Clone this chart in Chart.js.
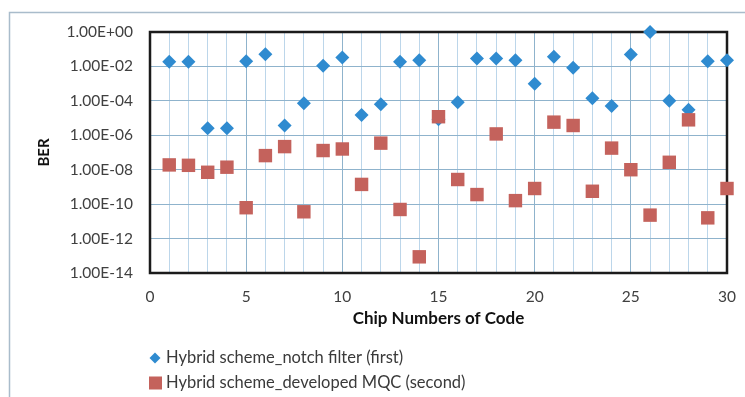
<!DOCTYPE html>
<html>
<head>
<meta charset="utf-8">
<script src="https://cdn.jsdelivr.net/npm/chart.js@4/dist/chart.umd.min.js"></script>
<style>
  html, body { margin: 0; padding: 0; background: #ffffff; }
  #wrap { width: 745px; height: 397px; position: relative; }
</style>
</head>
<body>
<div id="wrap"><canvas id="c" width="745" height="397"></canvas></div>
<script>
// ---- data ----
const chips = [1,2,3,4,5,6,7,8,9,10,11,12,13,14,15,16,17,18,19,20,21,22,23,24,25,26,27,28,29,30];
const notchBER = [1.9e-2,1.9e-2,2.6e-6,2.6e-6,2.0e-2,5.1e-2,3.7e-6,7.2e-5,1.1e-2,3.3e-2,
                  1.5e-5,6.3e-5,1.9e-2,2.3e-2,8.5e-6,8.3e-5,2.9e-2,2.9e-2,2.3e-2,1.0e-3,
                  3.6e-2,8.3e-3,1.4e-4,5.1e-5,4.9e-2,1.0,1.0e-4,3.0e-5,2.0e-2,2.3e-2];
const mqcBER   = [1.9e-8,1.8e-8,7.1e-9,1.4e-8,6.2e-11,6.6e-8,2.2e-7,3.6e-11,1.3e-7,1.6e-7,
                  1.4e-9,3.5e-7,4.9e-11,8.7e-14,1.2e-5,2.7e-9,3.6e-10,1.2e-6,1.6e-10,8.1e-10,
                  5.8e-6,3.7e-6,5.6e-10,1.8e-7,1.0e-8,2.3e-11,2.7e-8,7.9e-6,1.6e-11,8.1e-10];
const seriesNames = ["Hybrid scheme_notch filter (first)", "Hybrid scheme_developed MQC (second)"];
const yTicks = [1e-14,1e-12,1e-10,1e-8,1e-6,1e-4,1e-2,1e0];
const xTitle = "Chip Numbers of Code";
const yTitle = "BER";

const BLUE = "#2f8bd0";
const RED = "#c4625c";
const FONT = "Lato, 'Open Sans', sans-serif";

function fmtExp(v) {
  const e = Math.round(Math.log10(v));
  const sign = e < 0 ? "-" : "+";
  const a = Math.abs(e);
  return "1.00E" + sign + (a < 10 ? "0" + a : a);
}

const framePlugin = {
  id: "frame",
  beforeDraw(chart) {
    const ctx = chart.ctx;
    ctx.save();
    ctx.fillStyle = "#ffffff";
    ctx.fillRect(0, 0, chart.width, chart.height);
    ctx.strokeStyle = "#a9bccb";
    ctx.lineWidth = 1.5;
    ctx.strokeRect(9.5, 12.5, 800, 500);
    ctx.restore();
  },
  beforeDatasetsDraw(chart) {
    const a = chart.chartArea;
    const ctx = chart.ctx;
    ctx.save();
    ctx.strokeStyle = "#1b1b1b";
    ctx.lineWidth = 2.5;
    ctx.strokeRect(a.left, a.top, a.right - a.left, a.bottom - a.top);
    ctx.restore();
  }
};

// legend drawn as two stacked rows under the axis title, left-aligned to the plot
const stackedLegend = {
  id: "stackedLegend",
  afterDraw(chart) {
    const ctx = chart.ctx;
    const x0 = chart.chartArea.left;
    const rows = [chart.chartArea.bottom + 85, chart.chartArea.bottom + 110];
    ctx.save();
    ctx.font = "16.5px " + FONT;
    ctx.textBaseline = "middle";
    chart.data.datasets.forEach((d, i) => {
      const cy = rows[i];
      ctx.fillStyle = d.backgroundColor;
      if (i === 0) {
        ctx.beginPath();
        ctx.moveTo(x0 + 5, cy - 5.5);
        ctx.lineTo(x0 + 10.5, cy);
        ctx.lineTo(x0 + 5, cy + 5.5);
        ctx.lineTo(x0 - 0.5, cy);
        ctx.closePath();
        ctx.fill();
      } else {
        ctx.fillRect(x0 - 1, cy - 6.5, 13, 13);
      }
      ctx.fillStyle = "#3a3a3a";
      ctx.fillText(d.label, x0 + 16, cy);
    });
    ctx.restore();
  }
};

new Chart(document.getElementById("c"), {
  type: "scatter",
  data: {
    datasets: [
      {
        label: seriesNames[0],
        data: chips.map((x, i) => ({x: x, y: notchBER[i]})),
        pointStyle: "rectRot",
        pointRadius: 7,
        pointHoverRadius: 7,
        backgroundColor: BLUE,
        borderColor: BLUE,
        borderWidth: 0,
        clip: false,
        order: 1
      },
      {
        label: seriesNames[1],
        data: chips.map((x, i) => ({x: x, y: mqcBER[i]})),
        pointStyle: "rect",
        pointRadius: 9.5,
        pointHoverRadius: 9.5,
        backgroundColor: RED,
        borderColor: RED,
        borderWidth: 0,
        clip: false,
        order: 0
      }
    ]
  },
  options: {
    responsive: false,
    animation: false,
    events: [],
    layout: { padding: { left: 33, right: 18, top: 32, bottom: 62 } },
    scales: {
      x: {
        type: "linear",
        min: 0, max: 30,
        border: { display: false },
        afterFit: (scale) => { scale.height = 62; scale.paddingLeft = 0; scale.paddingRight = 0; },
        grid: {
          color: (c) => (c.tick && c.tick.value % 5 === 0) ? "#8fb3cc" : "#bcd6ea",
          lineWidth: 1,
          drawTicks: false
        },
        ticks: {
          stepSize: 1,
          autoSkip: false,
          maxRotation: 0,
          padding: 15,
          color: "#404040",
          font: { family: FONT, size: 15.5 },
          callback: (v) => (v % 5 === 0 ? String(v) : "")
        },
        title: {
          display: true,
          text: xTitle,
          color: "#111111",
          font: { family: FONT, size: 17, weight: "bold" },
          padding: { top: 4, bottom: 6 }
        }
      },
      y: {
        type: "logarithmic",
        min: 1e-14, max: 1,
        border: { display: false },
        afterBuildTicks: (scale) => { scale.ticks = yTicks.map(v => ({value: v})); },
        afterFit: (scale) => { scale.width = 117; scale.paddingTop = 0; scale.paddingBottom = 0; },
        grid: { color: "#8fb3cc", lineWidth: 1, drawTicks: false },
        ticks: {
          padding: 17,
          color: "#404040",
          font: { family: FONT, size: 15.5 },
          callback: (v) => fmtExp(v)
        },
        title: {
          display: true,
          text: yTitle,
          color: "#111111",
          font: { family: FONT, size: 15, weight: "bold" },
          padding: { top: 2, bottom: 4 }
        }
      }
    },
    plugins: {
      tooltip: { enabled: false },
      legend: { display: false }
    }
  },
  plugins: [framePlugin, stackedLegend]
});
</script>
</body>
</html>
